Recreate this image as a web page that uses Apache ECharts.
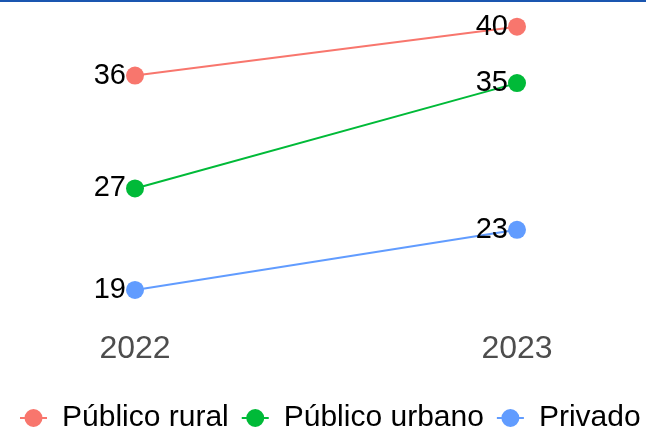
<!DOCTYPE html>
<html>
<head>
<meta charset="utf-8">
<script src="https://cdn.jsdelivr.net/npm/echarts@6/dist/echarts.min.js"></script>
<style>
html,body{margin:0;padding:0;background:#fff;}
#wrap{width:646px;height:432px;position:relative;}
#bar{position:absolute;left:0;top:0;width:646px;height:2px;background:#1a56b0;}
#chart{width:646px;height:432px;}
</style>
</head>
<body>
<div id="wrap"><div id="chart"></div><div id="bar"></div></div>
<script>
const years = ['2022', '2023'];
const seriesNames = ['Público rural', 'Público urbano', 'Privado'];
const ruralValues = [36.1, 40.0];
const urbanValues = [27.1, 35.5];
const privadoValues = [19.0, 23.8];
const ruralLabels = ['36', '40'];
const urbanLabels = ['27', '35'];
const privadoLabels = ['19', '23'];
const colors = ['#F8766D', '#00BA38', '#619CFF'];

const font = '"Liberation Sans", Arial, sans-serif';
const legendIcon = 'path://M0,8h27v2h-27z M4.5,9a9,9 0 1,1 18,0a9,9 0 1,1 -18,0z';
function mk(name, values, labels, color) {
  return {
    name: name,
    type: 'line',
    data: values,
    symbol: 'circle',
    symbolSize: 18,
    itemStyle: { color: color },
    lineStyle: { color: color, width: 2 },
    label: {
      show: true,
      position: 'left',
      distance: 0,
      color: '#000',
      fontSize: 29,
      fontFamily: font,
      formatter: p => labels[p.dataIndex]
    },
    emphasis: { disabled: true },
    animation: false
  };
}
const chart = echarts.init(document.getElementById('chart'));
chart.setOption({
  animation: false,
  grid: { left: 135, right: 129, top: 1.6, bottom: 104.4, containLabel: false },
  xAxis: {
    type: 'category',
    data: years,
    boundaryGap: false,
    axisLine: { show: false },
    axisTick: { show: false },
    splitLine: { show: false },
    axisLabel: { color: '#4d4d4d', fontSize: 32, fontFamily: font, margin: 6 }
  },
  yAxis: { type: 'value', min: 16, max: 42, show: false, splitLine: { show: false } },
  legend: {
    data: seriesNames.map(n => ({ name: n, icon: legendIcon })),
    top: 401,
    left: 20,
    padding: 0,
    itemWidth: 27,
    itemHeight: 18,
    itemGap: 13,
    textStyle: { fontSize: 30, color: '#000', fontFamily: font, padding: [0, 0, 0, 10], lineHeight: 34 }
  },
  series: [
    mk(seriesNames[0], ruralValues, ruralLabels, colors[0]),
    mk(seriesNames[1], urbanValues, urbanLabels, colors[1]),
    mk(seriesNames[2], privadoValues, privadoLabels, colors[2])
  ]
});
</script>
</body>
</html>
